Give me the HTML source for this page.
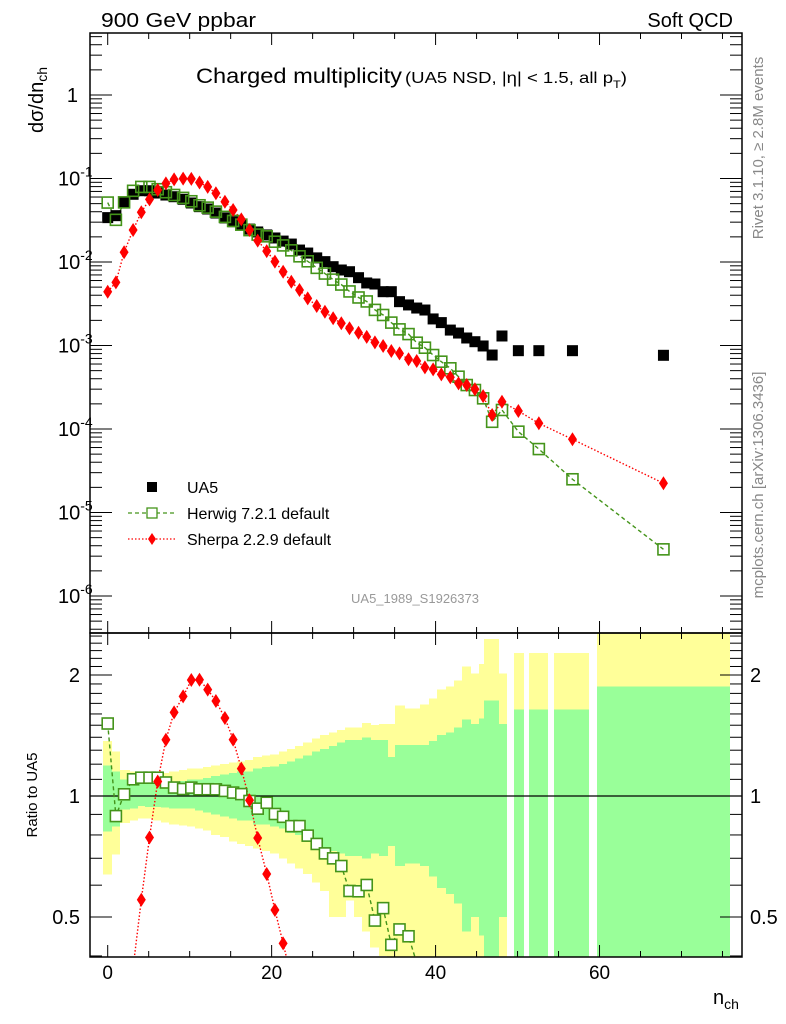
<!DOCTYPE html>
<html><head><meta charset="utf-8"><style>
html,body{margin:0;padding:0;background:#fff;width:786px;height:1024px;overflow:hidden;}
svg{display:block;font-family:"Liberation Sans",sans-serif;}
</style></head><body>
<svg id="chart" width="786" height="1024" viewBox="0 0 786 1024" xmlns="http://www.w3.org/2000/svg">
<defs>
<clipPath id="clipMain"><rect x="90" y="33" width="652" height="600"/></clipPath>
<clipPath id="clipRatio"><rect x="90" y="633" width="652" height="324"/></clipPath>
</defs>
<g id="bands" clip-path="url(#clipRatio)" shape-rendering="crispEdges"></g>
<g id="ticks"></g>
<line x1="90" y1="796" x2="742" y2="796" stroke="#000" stroke-width="1.3"/>
<g id="mainSeries" clip-path="url(#clipMain)"></g>
<g id="ratioSeries" clip-path="url(#clipRatio)"></g>
<rect x="90" y="33" width="652" height="600" fill="none" stroke="#000" stroke-width="1.5"/>
<rect x="90" y="633" width="652" height="324" fill="none" stroke="#000" stroke-width="1.5"/>
<g id="labels"></g>

<text x="101" y="27" font-size="20" textLength="155" lengthAdjust="spacingAndGlyphs">900 GeV ppbar</text>
<text x="733" y="27" font-size="20" text-anchor="end">Soft QCD</text>
<text x="196" y="83" font-size="21" textLength="206" lengthAdjust="spacingAndGlyphs">Charged multiplicity</text>
<text x="405" y="83" font-size="16" textLength="222" lengthAdjust="spacingAndGlyphs">(UA5 NSD, |η| &lt; 1.5, all p<tspan font-size="11" dy="5">T</tspan><tspan dy="-5">)</tspan></text>
<text x="415" y="603" font-size="13" fill="#999" text-anchor="middle">UA5_1989_S1926373</text>
<text transform="translate(763,148) rotate(-90)" font-size="15" fill="#888" text-anchor="middle">Rivet 3.1.10, ≥ 2.8M events</text>
<text transform="translate(763,485) rotate(-90)" font-size="15" fill="#888" text-anchor="middle">mcplots.cern.ch [arXiv:1306.3436]</text>
<text transform="translate(43,100) rotate(-90)" font-size="20" text-anchor="middle">dσ/dn<tspan font-size="14" dy="4">ch</tspan></text>
<text transform="translate(37,795) rotate(-90)" font-size="15" text-anchor="middle">Ratio to UA5</text>
<text x="713" y="1004" font-size="20">n<tspan font-size="14" dy="5">ch</tspan></text>

<g>
<rect x="147" y="482" width="10" height="10" fill="#000"/>
<text x="187" y="493" font-size="16">UA5</text>
<line x1="128" y1="513" x2="176" y2="513" stroke="#44941a" stroke-width="1.3" stroke-dasharray="4,3"/>
<rect x="147" y="508" width="10" height="10" fill="#fff" stroke="#44941a" stroke-width="1.3"/>
<text x="187" y="519" font-size="16">Herwig 7.2.1 default</text>
<line x1="128" y1="539" x2="176" y2="539" stroke="#f00" stroke-width="1.3" stroke-dasharray="1.5,2"/>
<polygon points="152,533 156,539 152,545 148,539" fill="#f00"/>
<text x="187" y="545" font-size="16">Sherpa 2.2.9 default</text>
</g>
</svg>
<script>
const nch = [0,1,2,3.1,4.1,5.1,6.1,7.1,8.1,9.2,10.2,11.2,12.2,13.2,14.3,15.3,16.3,17.3,18.3,19.4,20.4,21.4,22.4,23.4,24.4,25.5,26.5,27.5,28.5,29.5,30.6,31.6,32.6,33.6,34.6,35.6,36.7,37.7,38.7,39.7,40.7,41.8,42.8,43.8,44.8,45.8,46.9,48.1,50.1,52.6,56.7,67.8];
const binLo = [-0.5,0.5,1.5,2.6,3.6,4.6,5.6,6.6,7.6,8.7,9.7,10.7,11.7,12.7,13.8,14.8,15.8,16.8,17.8,18.9,19.9,20.9,21.9,22.9,23.9,25.0,26.0,27.0,28.0,29.0,30.1,31.1,32.1,33.1,34.1,35.1,36.2,37.2,38.2,39.2,40.2,41.3,42.3,43.3,44.3,45.3,46.0,47.65,49.57,51.5,54.56,59.7];
const binHi = [0.5,1.5,2.6,3.6,4.6,5.6,6.6,7.6,8.7,9.7,10.7,11.7,12.7,13.8,14.8,15.8,16.8,17.8,18.9,19.9,20.9,21.9,22.9,23.9,25.0,26.0,27.0,28.0,29.0,30.1,31.1,32.1,33.1,34.1,35.1,36.2,37.2,38.2,39.2,40.2,41.3,42.3,43.3,44.3,45.3,46.0,47.65,48.68,50.67,53.7,58.7,75.9];
const ua5 = [0.0340,0.0359,0.0513,0.0647,0.0714,0.0714,0.0670,0.0634,0.0605,0.0563,0.0509,0.0460,0.0431,0.0386,0.0337,0.0304,0.0277,0.0248,0.0229,0.0211,0.0194,0.0178,0.0164,0.0139,0.0128,0.0112,0.0101,0.00879,0.00802,0.00765,0.00649,0.00561,0.00545,0.00441,0.00441,0.00335,0.00306,0.00281,0.00266,0.00208,0.00188,0.00153,0.00141,0.00123,0.00111,0.000987,0.000769,0.00130,0.000867,0.000867,0.000867,0.000763];
const herwig = [0.0515,0.0320,0.0518,0.0712,0.0793,0.0793,0.0744,0.0685,0.0635,0.0586,0.0534,0.0478,0.0448,0.0401,0.0347,0.0310,0.0280,0.0241,0.0213,0.0203,0.0175,0.0158,0.0138,0.0117,0.0102,0.00851,0.00727,0.00615,0.00537,0.00444,0.00376,0.00337,0.00267,0.00232,0.00188,0.00156,0.00137,0.00108,0.000941,0.000769,0.000640,0.000533,0.000423,0.000336,0.000293,0.000233,0.000122,0.000169,0.0000929,0.0000575,0.0000250,0.00000362];
const sherpa = [0.00441,0.00570,0.0131,0.0242,0.0394,0.0563,0.0728,0.0875,0.0977,0.0996,0.0989,0.0895,0.0793,0.0665,0.0527,0.0420,0.0324,0.0242,0.0180,0.0135,0.0101,0.00765,0.00581,0.00462,0.00367,0.00297,0.00254,0.00212,0.00185,0.00161,0.00142,0.00127,0.00109,0.000987,0.000859,0.000805,0.000684,0.000652,0.000547,0.000518,0.000451,0.000416,0.000352,0.000336,0.000299,0.000248,0.000147,0.000212,0.000164,0.000117,0.0000753,0.0000224];
const totUp = [1.37,1.29,1.16,1.15,1.13,1.13,1.13,1.14,1.15,1.16,1.17,1.17,1.18,1.19,1.20,1.21,1.22,1.23,1.25,1.26,1.27,1.29,1.31,1.33,1.36,1.39,1.42,1.44,1.46,1.48,1.48,1.52,1.50,1.51,1.51,1.68,1.65,1.65,1.69,1.75,1.84,1.87,1.94,2.10,2.02,2.13,2.46,2.02,2.27,2.27,2.27,3.0];
const totLo = [0.637,0.715,0.857,0.87,0.88,0.88,0.87,0.86,0.85,0.845,0.84,0.83,0.82,0.80,0.79,0.77,0.76,0.75,0.74,0.73,0.72,0.70,0.68,0.66,0.64,0.61,0.58,0.50,0.50,0.55,0.50,0.46,0.42,0.40,0.38,0.36,0.35,0.35,0.35,0.35,0.35,0.35,0.35,0.35,0.35,0.35,0.35,0.35,0.3,0.3,0.3,0.3];
const statUp = [1.19,1.15,1.10,1.09,1.07,1.07,1.07,1.08,1.08,1.09,1.10,1.10,1.11,1.12,1.13,1.14,1.15,1.15,1.17,1.18,1.185,1.20,1.22,1.24,1.26,1.29,1.31,1.33,1.36,1.38,1.38,1.40,1.38,1.38,1.25,1.34,1.34,1.34,1.34,1.37,1.42,1.44,1.48,1.55,1.51,1.56,1.73,1.51,1.64,1.64,1.64,1.875];
const statLo = [0.817,0.84,0.925,0.93,0.943,0.94,0.94,0.935,0.93,0.93,0.93,0.92,0.91,0.90,0.89,0.88,0.87,0.87,0.85,0.85,0.84,0.83,0.81,0.80,0.78,0.75,0.74,0.73,0.72,0.71,0.71,0.70,0.72,0.71,0.75,0.67,0.68,0.68,0.67,0.63,0.59,0.57,0.54,0.46,0.50,0.45,0.3,0.50,0.3,0.3,0.3,0.3];
const xTickLabels = ["0","20","40","60"];
const ratioTickLabels = ["0.5","1","2"];

const NS = "http://www.w3.org/2000/svg";
function X(n){ return 107.7 + n*8.197; }
function YM(v){ return 95 - Math.log10(v)*83.5; }
function YR(r){ return 796 - Math.log2(r)*121; }
function mk(tag, attrs, parent){ const e=document.createElementNS(NS,tag); for(const k in attrs) e.setAttribute(k,attrs[k]); parent.appendChild(e); return e; }

const bands=document.getElementById('bands');
for(let i=0;i<nch.length;i++){
  const x0=Math.floor(X(binLo[i])), x1=Math.ceil(X(binHi[i]));
  const y=mk('rect',{x:x0,y:YR(totUp[i]),width:x1-x0,height:YR(totLo[i])-YR(totUp[i]),fill:'#ffff99'},bands);
  
  
}
for(let i=0;i<nch.length;i++){
  const x0=Math.floor(X(binLo[i])), x1=Math.ceil(X(binHi[i]));
  const g=mk('rect',{x:x0,y:YR(statUp[i]),width:x1-x0,height:YR(statLo[i])-YR(statUp[i]),fill:'#99ff99'},bands);
  
  
}

const ticks=document.getElementById('ticks');
const labels=document.getElementById('labels');
function tl(x1,y1,x2,y2){ const l=mk('line',{x1,y1,x2,y2,stroke:'#000','stroke-width':1},ticks);   }
for(let n=0;n<=75;n+=5){
  const x=X(n), L=(n%20===0)?12:6;
  tl(x,33,x,33+L); tl(x,633,x,633-L); tl(x,633,x,633+L); tl(x,957,x,957-L);
}
xTickLabels.forEach(s=>{
  const t=mk('text',{x:X(+s),y:979,'font-size':19,'text-anchor':'middle'},labels);
  t.textContent=s;
  
  
});
for(let d=-7; d<=1; d++){
  for(let k=1;k<=9;k++){
    const v=k*Math.pow(10,d), y=YM(v);
    if(y<34||y>632) continue;
    const L=(k===1)?22:12;
    tl(90,y,90+L,y); tl(742,y,742-L,y);
  }
}
for(let d=-6; d<=0; d++){
  const y=YM(Math.pow(10,d));
  const t=mk('text',{x:d===0?78:58,y:y+7,'font-size':20,'text-anchor':d===0?'end':'start'},labels);
  
  
  if(d===0){ t.textContent='1'; }
  else { t.textContent='10'; const s=document.createElementNS(NS,'tspan'); s.setAttribute('dy','-9'); s.setAttribute('font-size','14'); s.textContent=String(d); t.appendChild(s); }
}
const rt=[0.4,0.5,0.6,0.7,0.8,0.9,1.0,1.1,1.2,1.3,1.4,1.5,1.6,1.7,1.8,1.9,2.0,2.1,2.2,2.3,2.4,2.5];
rt.forEach(r=>{ const y=YR(r); if(y<634||y>956) return; const L=(r===0.5||r===1||r===2)?22:12; tl(90,y,90+L,y); tl(742,y,742-L,y); });
ratioTickLabels.forEach(s=>{
  const y=YR(+s)+7;
  const a=mk('text',{x:80,y,'font-size':20,'text-anchor':'end'},labels); a.textContent=s;
  
  
  const b=mk('text',{x:750,y,'font-size':20},labels); b.textContent=s;
  
  
});

function square(g,x,y,s,fill,stroke,name){
  const r=mk('rect',{x:x-s/2,y:y-s/2,width:s,height:s,fill:fill},g);
  if(stroke){ r.setAttribute('stroke',stroke); r.setAttribute('stroke-width','1.6'); }
  
  
}
function diamond(g,x,y,name){
  const p=mk('polygon',{points:`${x},${y-7} ${x+4.5},${y} ${x},${y+7} ${x-4.5},${y}`,fill:'#f00'},g);
  
  
}
function line(g,pts,stroke,dash,name){
  const p=mk('polyline',{points:pts.map(p=>p.join(',')).join(' '),fill:'none',stroke,'stroke-width':1.4,'stroke-dasharray':dash},g);
  
  
}
const ms=document.getElementById('mainSeries');
line(ms,nch.map((n,i)=>[X(n),YM(herwig[i])]),'#44941a','4,3','herwig-line');
line(ms,nch.map((n,i)=>[X(n),YM(sherpa[i])]),'#f00','1.5,2','sherpa-line');
nch.forEach((n,i)=>square(ms,X(n),YM(ua5[i]),11,'#000',null,'ua5-point'));
nch.forEach((n,i)=>square(ms,X(n),YM(herwig[i]),11,'none','#44941a','herwig-point'));
nch.forEach((n,i)=>diamond(ms,X(n),YM(sherpa[i]),'sherpa-point'));

const rs=document.getElementById('ratioSeries');
line(rs,nch.map((n,i)=>[X(n),YR(Math.max(herwig[i]/ua5[i],0.01))]),'#44941a','4,3','herwig-ratio-line');
line(rs,nch.map((n,i)=>[X(n),YR(Math.max(sherpa[i]/ua5[i],0.01))]),'#f00','1.5,2','sherpa-ratio-line');
nch.forEach((n,i)=>square(rs,X(n),YR(herwig[i]/ua5[i]),11,'#fff','#44941a','herwig-ratio-point'));
nch.forEach((n,i)=>diamond(rs,X(n),YR(sherpa[i]/ua5[i]),'sherpa-ratio-point'));
</script>
</body></html>
